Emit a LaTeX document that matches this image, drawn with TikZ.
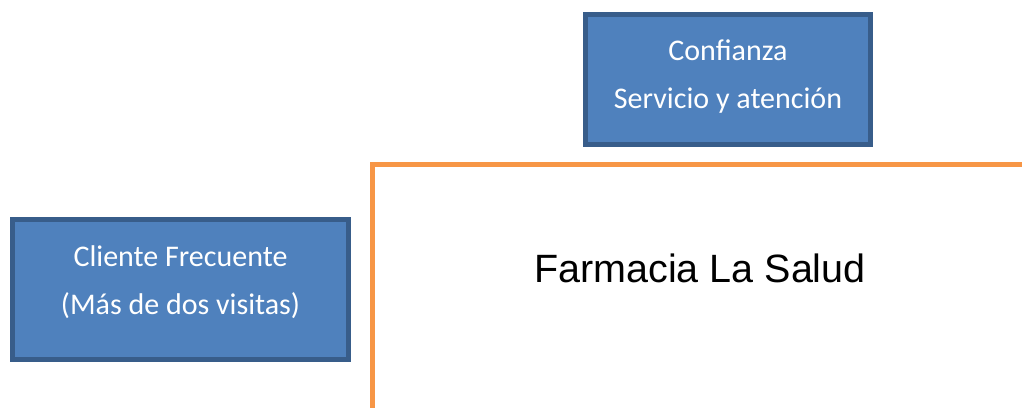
\documentclass[tikz,border=0pt]{standalone}
\usepackage{fontspec}
\setmainfont{Liberation Sans}
\newfontfamily\calfont{Carlito}
\usetikzlibrary{positioning}
\definecolor{boxfill}{HTML}{4F81BD}
\definecolor{boxline}{HTML}{385D8A}
\definecolor{farmline}{HTML}{F79646}
\tikzset{
  bluebox/.style={draw=boxline, fill=boxfill, line width=5pt, align=center,
    font=\calfont\fontsize{30}{48}\selectfont, text=white, inner sep=0pt},
  farmborder/.style={draw=farmline, line width=5pt},
  farmtext/.style={font=\fontsize{39.5}{44}\selectfont, text=black}
}
\begin{document}
\begin{tikzpicture}[x=1pt,y=1pt]
  \clip (0,0) rectangle (1022,407);
  \fill[white] (0,0) rectangle (1022,407);
  \node[bluebox, minimum width=285, minimum height=130, text depth=12pt] (confianza) at (728,327)
    {Confianza\\Servicio y atención};
  \node[bluebox, minimum width=336, minimum height=140, text depth=19pt] (cliente) at (180.5,117.5)
    {Cliente Frecuente\\(Más de dos visitas)};
  \draw[farmborder] (372.5,-30) |- (1060,242);
  \node[farmtext] (farmacia) at (700,139) {Farmacia La Salud};
\end{tikzpicture}
\end{document}
